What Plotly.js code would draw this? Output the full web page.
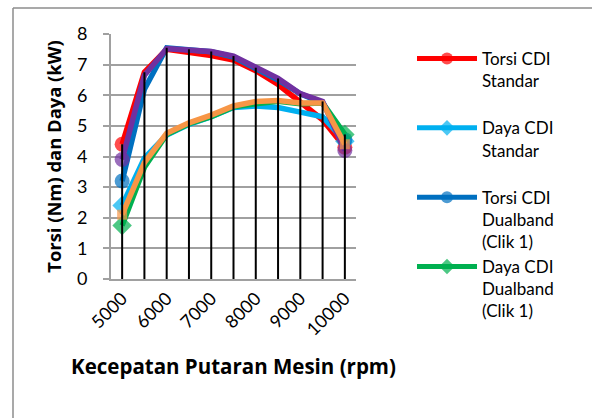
<!DOCTYPE html>
<html>
<head>
<meta charset="utf-8">
<script src="https://cdn.plot.ly/plotly-3.0.1.min.js"></script>
<style>
html,body{margin:0;padding:0;background:#fff;}
#chart{width:592px;height:418px;}
</style>
</head>
<body>
<div id="chart"></div>
<script>
var rpm = ["5000","5500","6000","6500","7000","7500","8000","8500","9000","9500","10000"];
var tickLabels = ["5000","6000","7000","8000","9000","10000"];
var torsiStandar = [4.4, 6.75, 7.5, 7.4, 7.3, 7.15, 6.8, 6.35, 5.8, 5.2, 4.3];
var dayaStandar = [2.4, 3.95, 4.7, 5.05, 5.3, 5.6, 5.65, 5.6, 5.45, 5.3, 4.5];
var torsiDual1 = [3.2, 6.2, 7.55, 7.5, 7.42, 7.25, 6.9, 6.5, 6.05, 5.75, 4.55];
var dayaDual1 = [1.75, 3.65, 4.72, 5.07, 5.3, 5.62, 5.72, 5.8, 5.72, 5.75, 4.72];
var torsiDual2 = [3.9, 6.65, 7.52, 7.48, 7.43, 7.28, 6.9, 6.55, 6.05, 5.8, 4.2];
var dayaDual2 = [2.1, 3.8, 4.76, 5.1, 5.35, 5.65, 5.8, 5.83, 5.75, 5.75, 4.4];

var FONT = "Lato, 'Open Sans', sans-serif";
var TFONT = "'Open Sans', Lato, sans-serif";
var n = rpm.length;
function endSizes(s){ var a=[]; for(var i=0;i<n;i++){ a.push((i===0||i===n-1)?s:0);} return a; }

function series(name, y, color, symbol, size, show){
  return {
    type:'scatter', mode:'lines+markers', name:name, x:rpm, y:y,
    line:{color:color, width:5.5},
    marker:{color:color, symbol:symbol, size:endSizes(size), line:{width:0}},
    showlegend:show, hoverinfo:'x+y'
  };
}

var all = [torsiStandar, dayaStandar, torsiDual1, dayaDual1, torsiDual2, dayaDual2];
var dx=[], dy=[];
for (var i=0;i<n;i++){
  var m = -Infinity;
  all.forEach(function(s){ if (s[i]>m) m=s[i]; });
  dx.push(rpm[i], rpm[i], null);
  dy.push(0, m, null);
}

var data = [
  series("Torsi CDI<br>Standar<br> ", torsiStandar, "#FF0000", "circle", 15, true),
  series("Daya CDI<br>Standar<br> ", dayaStandar, "#00B0F0", "diamond", 15, true),
  series("Torsi CDI<br>Dualband<br>(Clik 1)", torsiDual1, "#0070C0", "circle", 15, true),
  series("Daya CDI<br>Dualband<br>(Clik 1)", dayaDual1, "#00B050", "diamond", 15, true),
  series("Torsi CDI Dualband (Clik 2)", torsiDual2, "#7030A0", "circle", 15, false),
  series("Daya CDI Dualband (Clik 2)", dayaDual2, "#F79646", "square", 10, false),
  {type:'scatter', mode:'lines', x:dx, y:dy, line:{color:'#000', width:2}, showlegend:false, hoverinfo:'skip', connectgaps:false}
];

var L=111, R=236, T=34, B=139, PW=592-L-R, PH=418-T-B;
function px(x){ return (x-L)/PW; }
function py(y){ return (418-B-y)/PH; }

var layout = {
  width:592, height:418,
  margin:{l:L, r:R, t:T, b:B, pad:0},
  paper_bgcolor:'#fff', plot_bgcolor:'#fff',
  font:{family:FONT, size:18, color:'#000'},
  xaxis:{
    type:'category', range:[-0.5, n-0.5],
    tickmode:'array', tickvals:tickLabels, ticktext:tickLabels,
    tickangle:-45, showgrid:false, ticks:'', zeroline:false,
    showline:true, linecolor:'#A0A0A0', linewidth:2,
    tickfont:{family:FONT, size:18, color:'#000'},
    title:{text:'<b>Kecepatan Putaran Mesin (rpm)</b>', font:{family:TFONT, size:20.5, color:'#000'}, standoff:21},
    automargin:false, fixedrange:true
  },
  yaxis:{
    range:[0,8], dtick:1, tick0:0,
    showgrid:true, gridcolor:'#A0A0A0', gridwidth:2,
    showline:true, linecolor:'#A0A0A0', linewidth:2,
    ticks:'outside', ticklen:6, tickcolor:'#A0A0A0', tickwidth:2,
    zeroline:false, ticklabelstandoff:12,
    tickfont:{family:FONT, size:18, color:'#000'},
    title:{text:'<b>Torsi (Nm) dan Daya (kW)</b>', font:{family:TFONT, size:18.4, color:'#000'}, standoff:11},
    automargin:false, fixedrange:true
  },
  legend:{
    x:px(412), y:py(41), xanchor:'left', yanchor:'top',
    bgcolor:'rgba(0,0,0,0)', font:{family:FONT, size:17, color:'#000'},
    itemwidth:60, valign:'top', tracegroupgap:0, itemclick:false,
    itemsizing:'constant', maxheight:400
  },
  shapes:[
    {type:'line', xref:'paper', yref:'paper', x0:px(13), x1:px(13), y0:py(8), y1:py(418),
      line:{color:'#8C8C8C', width:1.5}, layer:'below'},
    {type:'line', xref:'paper', yref:'paper', x0:px(13), x1:px(592), y0:py(8), y1:py(8),
      line:{color:'#8C8C8C', width:1.5}, layer:'below'}
  ],
  showlegend:true
};

Plotly.newPlot('chart', data, layout, {displayModeBar:false, staticPlot:true});
</script>
</body>
</html>
